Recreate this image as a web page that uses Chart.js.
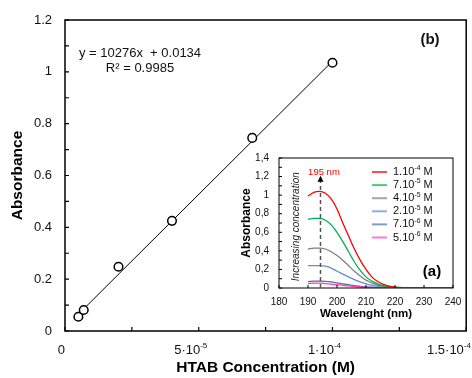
<!DOCTYPE html>
<html>
<head>
<meta charset="utf-8">
<script src="https://cdn.jsdelivr.net/npm/chart.js@4.4.0/dist/chart.umd.min.js"></script>
<style>
  html, body { margin: 0; padding: 0; background: #fff; }
  #wrap { position: relative; width: 472px; height: 378px; }
  #main { position: absolute; left: 0; top: 0; }
  #inset { position: absolute; left: 232px; top: 145px; }
</style>
</head>
<body>
<div id="wrap">
  <canvas id="main" width="472" height="378"></canvas>
  <canvas id="inset" width="238" height="180"></canvas>
</div>
<script>
// main plot (b): calibration
const concM = [5e-6, 7e-6, 2e-5, 4e-5, 7e-5, 1e-4];
const absMain = [0.055, 0.081, 0.248, 0.425, 0.745, 1.035];
const fitSlope = 10276;
const fitIntercept = 0.0134;
const fitFrom = 5e-6;
const fitTo = 1e-4;
const xTickVals = [0, 5e-5, 1e-4, 1.5e-4];
const xTickBase = ['0', '5·10', '1·10', '1.5·10'];
const xTickExp = ['', '-5', '-4', '-4'];

// inset (a): spectra
const waveNm = [190, 192, 194, 196, 198, 200, 202, 204, 206, 208, 210, 212, 214, 216, 218, 220, 225, 230, 235, 240];
const abs1e4 = [0.99, 1.03, 1.04, 1.02, 0.96, 0.85, 0.70, 0.56, 0.42, 0.30, 0.20, 0.12, 0.07, 0.04, 0.02, 0.01, 0.003, 0, 0, 0];
const abs7e5 = [0.74, 0.75, 0.75, 0.73, 0.68, 0.60, 0.50, 0.39, 0.28, 0.19, 0.12, 0.075, 0.045, 0.025, 0.015, 0.008, 0.002, 0, 0, 0];
const abs4e5 = [0.42, 0.43, 0.43, 0.42, 0.39, 0.35, 0.30, 0.24, 0.18, 0.13, 0.085, 0.055, 0.03, 0.018, 0.01, 0.005, 0.001, 0, 0, 0];
const abs2e5 = [0.24, 0.24, 0.24, 0.235, 0.215, 0.18, 0.15, 0.12, 0.09, 0.065, 0.045, 0.03, 0.018, 0.01, 0.005, 0.003, 0, 0, 0, 0];
const abs7e6 = [0.068, 0.075, 0.075, 0.072, 0.065, 0.055, 0.045, 0.035, 0.025, 0.018, 0.012, 0.008, 0.005, 0.003, 0.002, 0.001, 0, 0, 0, 0];
const abs5e6 = [0.048, 0.052, 0.052, 0.048, 0.042, 0.035, 0.028, 0.022, 0.016, 0.011, 0.007, 0.005, 0.003, 0.002, 0.001, 0, 0, 0, 0, 0];
const spectra = [abs1e4, abs7e5, abs4e5, abs2e5, abs7e6, abs5e6];
const legendBase = ['1.10', '7.10', '4.10', '2.10', '7.10', '5.10'];
const legendExp = ['-4', '-5', '-5', '-5', '-6', '-6'];
const curveColors = ['#ff0000', '#00b050', '#7f7f7f', '#5b8fd0', '#4f72aa', '#ff3fb0'];
const peakNm = 194;

const FAM = '"Liberation Sans", Arial, sans-serif';

function drawSup(ctx, base, exp, tail, x, y, size, align) {
  const es = size * 0.62;
  ctx.font = size + 'px ' + FAM;
  const wb = ctx.measureText(base).width;
  const wt = ctx.measureText(tail).width;
  ctx.font = es + 'px ' + FAM;
  const we = ctx.measureText(exp).width;
  const w = wb + we + wt;
  let x0 = x;
  if (align === 'center') x0 = x - w / 2;
  if (align === 'right') x0 = x - w;
  ctx.textAlign = 'left';
  ctx.textBaseline = 'middle';
  ctx.font = size + 'px ' + FAM;
  ctx.fillText(base, x0, y);
  ctx.fillText(tail, x0 + wb + we, y);
  ctx.font = es + 'px ' + FAM;
  ctx.fillText(exp, x0 + wb, y - size * 0.32);
  return w;
}

function supWidth(ctx, base, exp, size) {
  ctx.font = size + 'px ' + FAM;
  const wb = ctx.measureText(base).width;
  ctx.font = (size * 0.62) + 'px ' + FAM;
  return wb + ctx.measureText(exp).width;
}

const mainDecor = {
  id: 'mainDecor',
  afterDraw(chart) {
    const { ctx, chartArea: a, scales } = chart;
    const xs = scales.x, ys = scales.y;
    ctx.save();
    ctx.strokeStyle = '#000';
    ctx.lineWidth = 1.5;
    ctx.strokeRect(a.left, a.top, a.right - a.left, a.bottom - a.top);
    ctx.lineWidth = 1.2;
    ctx.beginPath();
    for (let i = 0; i <= 12; i++) {
      const py = ys.getPixelForValue(i / 10);
      ctx.moveTo(a.left, py);
      ctx.lineTo(a.left + 4, py);
    }
    xs.ticks.forEach(t => {
      const px = xs.getPixelForValue(t.value);
      ctx.moveTo(px, a.bottom);
      ctx.lineTo(px, a.bottom - 4);
    });
    ctx.stroke();

    ctx.fillStyle = '#111';
    xTickVals.forEach((v, i) => {
      const w = supWidth(ctx, xTickBase[i], xTickExp[i], 13);
      let cx = xs.getPixelForValue(v) - Math.min(8, w / 2);
      if (cx + w / 2 > chart.width - 1) cx = chart.width - 1 - w / 2;
      drawSup(ctx, xTickBase[i], xTickExp[i], '', cx, 350, 13, 'center');
    });

    ctx.textAlign = 'center';
    ctx.textBaseline = 'middle';
    ctx.font = '13px ' + FAM;
    ctx.fillText('y = 10276x  + 0.0134', 140, 53);
    ctx.fillText('R² = 0.9985', 140, 68);
    ctx.font = 'bold 15px ' + FAM;
    ctx.fillText('(b)', 430, 40);
    ctx.restore();
  }
};

new Chart(document.getElementById('main'), {
  type: 'scatter',
  data: {
    datasets: [
      {
        label: 'HTAB',
        data: concM.map((c, i) => ({ x: c, y: absMain[i] })),
        pointRadius: 4.3,
        pointBorderWidth: 1.5,
        pointBorderColor: '#000',
        pointBackgroundColor: '#fff',
        showLine: false
      },
      {
        label: 'fit',
        data: [fitFrom, fitTo].map(c => ({ x: c, y: fitSlope * c + fitIntercept })),
        showLine: true,
        borderColor: '#000',
        borderWidth: 1,
        pointRadius: 0
      }
    ]
  },
  options: {
    responsive: false,
    animation: false,
    layout: { padding: { left: 0, top: 20, right: 3, bottom: 0 } },
    plugins: { legend: { display: false }, tooltip: { enabled: false } },
    scales: {
      x: {
        type: 'linear',
        min: 0,
        max: 1.5e-4,
        ticks: { stepSize: 2.5e-5, display: false },
        grid: { display: false, drawTicks: false },
        border: { display: false },
        title: {
          display: true,
          text: 'HTAB Concentration (M)',
          color: '#000',
          font: { family: FAM, size: 15.5, weight: 'bold' },
          padding: { top: 0, bottom: 1 }
        },
        afterFit(s) {
          s.height = 47;
          s.paddingLeft = s.paddingRight = 0;
        }
      },
      y: {
        min: 0,
        max: 1.2,
        ticks: {
          stepSize: 0.2,
          padding: 13,
          color: '#111',
          font: { family: FAM, size: 13 },
          callback: v => String(+v.toFixed(1))
        },
        grid: { display: false, drawTicks: false },
        border: { display: false },
        title: {
          display: true,
          text: 'Absorbance',
          color: '#000',
          font: { family: FAM, size: 15.5, weight: 'bold' },
          padding: { top: 8, bottom: 0 }
        },
        afterFit(s) {
          s.width = 65;
          s.paddingTop = s.paddingBottom = 0;
        }
      }
    }
  },
  plugins: [mainDecor]
});

const insetDecor = {
  id: 'insetDecor',
  afterDraw(chart) {
    const { ctx, chartArea: a, scales } = chart;
    const xs = scales.x, ys = scales.y;
    ctx.save();
    ctx.strokeStyle = '#000';
    ctx.lineWidth = 1;
    ctx.strokeRect(a.left, a.top, a.right - a.left, a.bottom - a.top);
    ctx.beginPath();
    for (let i = 0; i <= 14; i++) {
      const py = ys.getPixelForValue(i / 10);
      ctx.moveTo(a.left, py);
      ctx.lineTo(a.left + 3, py);
    }
    xs.ticks.forEach(t => {
      const px = xs.getPixelForValue(t.value);
      ctx.moveTo(px, a.bottom);
      ctx.lineTo(px, a.bottom - 3);
    });
    ctx.stroke();

    // peak marker
    const px = Math.round(xs.getPixelForValue(peakNm)) + 0.5;
    const tip = ys.getPixelForValue(1.21);
    ctx.strokeStyle = '#555';
    ctx.lineWidth = 1.5;
    ctx.setLineDash([4, 3]);
    ctx.beginPath();
    ctx.moveTo(px, a.bottom);
    ctx.lineTo(px, tip + 5);
    ctx.stroke();
    ctx.setLineDash([]);
    ctx.fillStyle = '#000';
    ctx.beginPath();
    ctx.moveTo(px, tip);
    ctx.lineTo(px - 3, tip + 6);
    ctx.lineTo(px + 3, tip + 6);
    ctx.closePath();
    ctx.fill();

    ctx.fillStyle = '#ff0000';
    ctx.font = '9.5px ' + FAM;
    ctx.textAlign = 'center';
    ctx.textBaseline = 'middle';
    ctx.fillText('195 nm', xs.getPixelForValue(195.5), ys.getPixelForValue(1.25));

    ctx.save();
    ctx.translate(xs.getPixelForValue(185.9), ys.getPixelForValue(0.66));
    ctx.rotate(-Math.PI / 2);
    ctx.fillStyle = '#222';
    ctx.font = 'italic 10px ' + FAM;
    ctx.fillText('Increasing concentration', 0, 0);
    ctx.restore();

    // legend
    legendBase.forEach((b, i) => {
      const ly = 27 + i * 13.1;
      ctx.strokeStyle = curveColors[i];
      ctx.globalAlpha = 0.7;
      ctx.lineWidth = 2;
      ctx.beginPath();
      ctx.moveTo(140, ly);
      ctx.lineTo(155, ly);
      ctx.stroke();
      ctx.globalAlpha = 1;
      ctx.fillStyle = '#111';
      drawSup(ctx, b, legendExp[i], ' M', 161, ly, 11, 'left');
    });

    ctx.fillStyle = '#000';
    ctx.font = 'bold 15px ' + FAM;
    ctx.textAlign = 'center';
    ctx.textBaseline = 'middle';
    ctx.fillText('(a)', 200, 127);
    ctx.restore();
  }
};

new Chart(document.getElementById('inset'), {
  type: 'line',
  data: {
    datasets: spectra.map((s, k) => ({
      label: legendBase[k] + legendExp[k],
      data: waveNm.map((w, i) => ({ x: w, y: s[i] })),
      borderColor: curveColors[k],
      borderWidth: 1.3,
      pointRadius: 0,
      cubicInterpolationMode: 'monotone',
      fill: false,
      order: k === 5 ? 0 : 1
    }))
  },
  options: {
    responsive: false,
    animation: false,
    layout: { padding: { left: 0, top: 13, right: 17, bottom: 0 } },
    plugins: { legend: { display: false }, tooltip: { enabled: false } },
    scales: {
      x: {
        type: 'linear',
        min: 180,
        max: 240,
        ticks: { stepSize: 10, padding: 8, color: '#111', font: { family: FAM, size: 10 } },
        grid: { display: false, drawTicks: false },
        border: { display: false },
        title: {
          display: true,
          text: 'Wavelenght (nm)',
          color: '#000',
          font: { family: FAM, size: 11.5, weight: 'bold' },
          padding: { top: 0, bottom: 4 }
        },
        afterFit(s) {
          s.height = 37;
          s.paddingLeft = s.paddingRight = 0;
        }
      },
      y: {
        min: 0,
        max: 1.4,
        ticks: {
          stepSize: 0.2,
          padding: 10,
          color: '#111',
          font: { family: FAM, size: 10 },
          callback: v => String(+v.toFixed(1)).replace('.', ',')
        },
        grid: { display: false, drawTicks: false },
        border: { display: false },
        title: {
          display: true,
          text: 'Absorbance',
          color: '#000',
          font: { family: FAM, size: 12, weight: 'bold' },
          padding: { top: 7, bottom: 0 }
        },
        afterFit(s) {
          s.width = 47;
          s.paddingTop = s.paddingBottom = 0;
        }
      }
    }
  },
  plugins: [insetDecor]
});
</script>
</body>
</html>
